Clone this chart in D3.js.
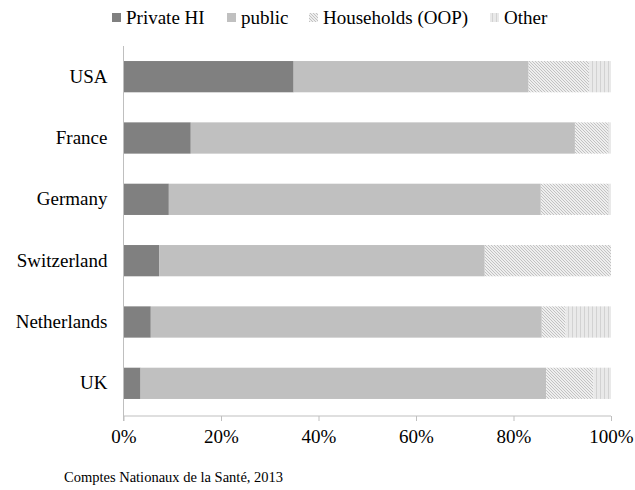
<!DOCTYPE html>
<html>
<head>
<meta charset="utf-8">
<script src="https://cdn.jsdelivr.net/npm/d3@7"></script>
<style>
  body { margin: 0; background: #fff; }
  svg text { font-family: 'Liberation Serif', 'Times New Roman', serif !important; fill: #000; }
</style>
</head>
<body>
<div id="chart"></div>
<script>
// data (share of health spending, %)
const countries = ["USA", "France", "Germany", "Switzerland", "Netherlands", "UK"];
const seriesNames = ["Private HI", "public", "Households (OOP)", "Other"];
const privateHI = [34.9, 13.8, 9.3, 7.3, 5.6, 3.5];
const publicShare = [48.2, 78.8, 76.3, 66.8, 80.2, 83.2];
const households = [12.4, 6.9, 13.9, 25.9, 4.9, 9.7];
const other = [4.5, 0.5, 0.5, 0.0, 9.3, 3.6];
const xTicks = [0, 20, 40, 60, 80, 100];
const source = "Comptes Nationaux de la Santé, 2013";

const W = 635, H = 490;
const margin = { top: 46, right: 24, bottom: 76, left: 123.5 };
const serif = "'Liberation Serif', 'Times New Roman', serif";

const svg = d3.select("#chart").append("svg")
  .attr("width", W).attr("height", H)
  .attr("font-family", serif);

// fill patterns for the two light series
const defs = svg.append("defs");
const hatch = defs.append("pattern")
  .attr("id", "hatchOOP")
  .attr("patternUnits", "userSpaceOnUse")
  .attr("width", 3).attr("height", 3);
hatch.append("rect").attr("width", 3).attr("height", 3).attr("fill", "#eeeeee");
hatch.append("path")
  .attr("d", "M-1,-1 L4,4 M-1,2 L1,4 M2,-1 L4,1")
  .attr("stroke", "#bdbdbd").attr("stroke-width", 0.9);

const vstripe = defs.append("pattern")
  .attr("id", "stripeOther")
  .attr("patternUnits", "userSpaceOnUse")
  .attr("width", 4).attr("height", 4);
vstripe.append("rect").attr("width", 4).attr("height", 4).attr("fill", "#e9e9e9");
vstripe.append("rect").attr("x", 0).attr("width", 1).attr("height", 4).attr("fill", "#d2d2d2");

const fills = ["#808080", "#c0c0c0", "url(#hatchOOP)", "url(#stripeOther)"];

const x = d3.scaleLinear().domain([0, 100]).range([margin.left, W - margin.right]);
const y = d3.scaleBand().domain(countries)
  .range([margin.top, H - margin.bottom]).paddingInner(0.49).paddingOuter(0.245);

// build stacked table
const table = countries.map((c, i) => ({
  country: c,
  "Private HI": privateHI[i],
  "public": publicShare[i],
  "Households (OOP)": households[i],
  "Other": other[i]
}));
const stacked = d3.stack().keys(seriesNames)(table);

const barG = svg.append("g");
barG.selectAll("g")
  .data(stacked)
  .join("g")
  .attr("fill", (d, i) => fills[i])
  .selectAll("rect")
  .data(d => d)
  .join("rect")
  .attr("x", d => x(d[0]))
  .attr("width", d => Math.max(0, x(d[1]) - x(d[0])))
  .attr("y", d => y(d.data.country))
  .attr("height", y.bandwidth());

// x axis
const xAxis = d3.axisBottom(x)
  .tickValues(xTicks)
  .tickFormat(d => d + "%")
  .tickSize(5)
  .tickPadding(9);
const xg = svg.append("g")
  .attr("transform", `translate(0,${H - margin.bottom + 2})`)
  .call(xAxis)
  .attr("font-family", serif)
  .attr("font-size", 19);
xg.select(".domain").attr("stroke", "#bfbfbf").attr("d", `M${x(0)},0H${x(100)}`);
xg.selectAll(".tick line").attr("stroke", "#bfbfbf");
xg.selectAll(".tick text").attr("fill", "#000");

// y axis
const yAxis = d3.axisLeft(y).tickSize(0).tickPadding(16);
const yg = svg.append("g")
  .attr("transform", `translate(${margin.left},0)`)
  .call(yAxis)
  .attr("font-family", serif)
  .attr("font-size", 19);
yg.select(".domain").attr("stroke", "#bfbfbf")
  .attr("d", `M0,${margin.top}V${H - margin.bottom + 7}`);
yg.selectAll(".tick text").attr("fill", "#000");

// legend
const legendX = [112, 227, 309, 490];
const legend = svg.append("g").attr("font-family", serif).attr("font-size", 19);
seriesNames.forEach((name, i) => {
  legend.append("rect")
    .attr("x", legendX[i]).attr("y", 13)
    .attr("width", 9).attr("height", 9)
    .attr("fill", fills[i]);
  legend.append("text")
    .attr("x", legendX[i] + 14).attr("y", 24)
    .text(name);
});

// source note
svg.append("text")
  .attr("x", 64).attr("y", 482)
  .attr("font-family", serif)
  .attr("font-size", 14.5)
  .text(source);
</script>
</body>
</html>
